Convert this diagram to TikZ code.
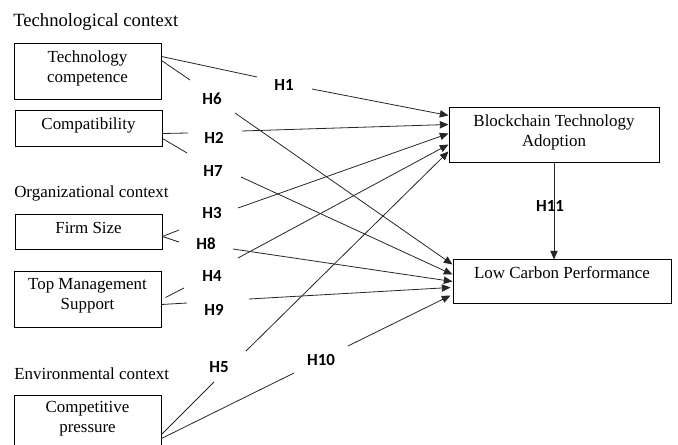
\documentclass[tikz,border=0pt]{standalone}
\usepackage{fontspec}
\setmainfont{Liberation Serif}
\newfontfamily\hfont{Carlito}
\usetikzlibrary{calc,fit,arrows.meta}
\begin{document}
\begin{tikzpicture}[x=0.75pt,y=-0.75pt,
  box/.style={draw=black,line width=0.75pt,inner sep=0pt},
  txt/.style={font=\fontsize{12.7}{15}\selectfont,align=center,inner sep=0pt},
  head/.style={font=\fontsize{12.7}{15.5}\selectfont,anchor=west,inner sep=0pt},
  hyp/.style={font=\hfont\bfseries\fontsize{12.7}{14}\selectfont,inner sep=0pt},
  conn/.style={line width=0.6pt,draw=black!85},
  arr/.style={conn,-{Triangle[length=6.5pt,width=5.5pt]}}]
\useasboundingbox (0,0) rectangle (678,445);
% headings
\node[head,font=\fontsize{14}{16}\selectfont] (hT) at (13,22) {Technological context};
\node[head] (hO) at (14,193) {Organizational context};
\node[head] (hE) at (14,374) {Environmental context};
% boxes
\node[box,fit={(14,44)(161,100)}] (tc) {};
\node[txt] (tct) at (87.5,68) {Technology\\competence};
\node[box,fit={(15,111)(162,147)}] (cm) {};
\node[txt] (cmt) at (88.5,125) {Compatibility};
\node[box,fit={(15,215)(162,250)}] (fs) {};
\node[txt] (fst) at (88.5,228) {Firm Size};
\node[box,fit={(14,272)(161,327)}] (tm) {};
\node[txt] (tmt) at (87.5,296) {Top Management\\Support};
\node[box,fit={(14,395)(161,448)}] (cp) {};
\node[txt] (cpt) at (87.5,419) {Competitive\\pressure};
\node[box,fit={(449,108)(659,163)}] (bta) {};
\node[txt] (btat) at (554,132) {Blockchain Technology\\Adoption};
\node[box,fit={(453,260)(671,303)}] (lcp) {};
\node[txt] (lcpt) at (562,273) {Low Carbon Performance};
% hypothesis labels
\node[hyp] (H1) at (284,85) {H1};
\node[hyp] (H6) at (212,99) {H6};
\node[hyp] (H2) at (214,138) {H2};
\node[hyp] (H7) at (213,171) {H7};
\node[hyp] (H3) at (212,213) {H3};
\node[hyp] (H8) at (206,244) {H8};
\node[hyp] (H4) at (212,276) {H4};
\node[hyp] (H9) at (214,310) {H9};
\node[hyp] (H5) at (219,367) {H5};
\node[hyp] (H10) at (321,360) {H10};
% free ends near labels
\coordinate (h1a) at (257,77);  \coordinate (h1b) at (312,89);
\coordinate (h6a) at (190,80);  \coordinate (h6b) at (235,113);
\coordinate (h2a) at (188,133); \coordinate (h2b) at (242,131);
\coordinate (h7a) at (187,153); \coordinate (h7b) at (241,177);
\coordinate (h3a) at (179,230); \coordinate (h3b) at (238,208);
\coordinate (h8a) at (179,242); \coordinate (h8b) at (233,249);
\coordinate (h4a) at (184,288); \coordinate (h4b) at (238,258);
\coordinate (h9a) at (187,303); \coordinate (h9b) at (249,299);
\coordinate (h5a) at (214,382); \coordinate (h5b) at (246,351);
\coordinate (h10a) at (294,373); \coordinate (h10b) at (348,346);
% connectors
\draw[conn] ($(tc.north east)+(0,13)$) -- (h1a);
\draw[arr] (h1b) -- ($(bta.north west)+(0,8)$);
\draw[conn] ($(tc.north east)+(0,17)$) -- (h6a);
\draw[arr] (h6b) -- ($(lcp.north west)+(0,5)$);
\draw[conn] ($(cm.north east)+(0,23)$) -- (h2a);
\draw[arr] (h2b) -- ($(bta.north west)+(0,17)$);
\draw[conn] ($(cm.north east)+(0,28)$) -- (h7a);
\draw[arr] (h7b) -- ($(lcp.north west)+(0,15)$);
\draw[conn] ($(fs.north east)+(0,22)$) -- (h3a);
\draw[arr] (h3b) -- ($(bta.north west)+(0,26)$);
\draw[conn] ($(fs.north east)+(0,22)$) -- (h8a);
\draw[arr] (h8b) -- ($(lcp.north west)+(0,22)$);
\draw[conn] ($(tm.north east)+(4,26)$) -- (h4a);
\draw[arr] (h4b) -- ($(bta.north west)+(0,37)$);
\draw[conn] ($(tm.north east)+(0,33)$) -- (h9a);
\draw[arr] (h9b) -- ($(lcp.north west)+(-2,28)$);
\draw[conn] ($(cp.north east)+(0,40)$) -- (h5a);
\draw[arr] (h5b) -- ($(bta.north west)+(0,44)$);
\draw[conn] ($(cp.north east)+(0,44)$) -- (h10a);
\draw[arr] (h10b) -- ($(lcp.north west)+(-2,36)$);
\draw[arr] (bta.south) -- (bta.south |- lcp.north);
\node[hyp] (H11) at (550,206) {H11};
\end{tikzpicture}
\end{document}
